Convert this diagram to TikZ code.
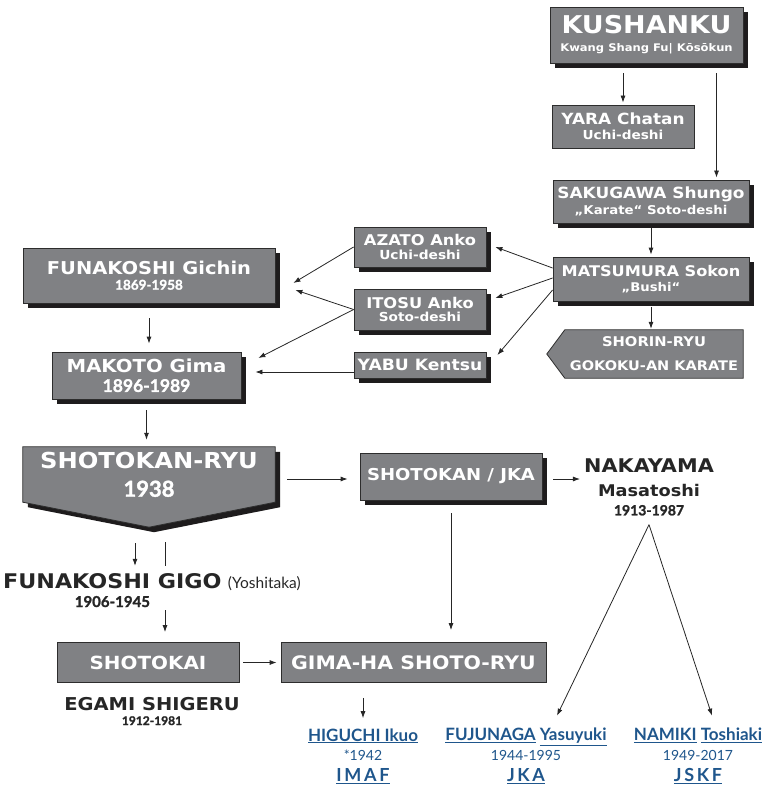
\documentclass[tikz,border=0pt]{standalone}
\usepackage{fontspec}
\setmainfont{Lato}
\newfontfamily\boxfont{DejaVu Sans}[FakeStretch=1.1]
\usetikzlibrary{arrows.meta,shadows,backgrounds,positioning}
\definecolor{boxgray}{RGB}{128,129,132}
\definecolor{boxline}{RGB}{45,45,45}
\definecolor{shade}{RGB}{30,28,29}
\definecolor{linkblue}{RGB}{31,86,140}
\newcommand\fsz[1]{\fontsize{#1}{\baselineskip}\selectfont}
\newcommand\datefont{\normalfont\bfseries\addfontfeature{FakeBold=1.5}}

\begin{document}
\begin{tikzpicture}[x=1pt, y=-1pt, >={Latex[length=7pt,width=5pt]},
    lineage/.style ={draw=boxline, fill=boxgray, line width=0.8pt, text=white, align=center, inner sep=0pt, font=\boxfont\bfseries\fontsize{10}{#1}\selectfont},
    lineage/.default=12,
    shaded/.style ={drop shadow={shadow xshift=5pt, shadow yshift=-5pt, fill=shade, opacity=1}},
    caption/.style ={align=center, inner sep=0pt, text=white, font=\boxfont\bfseries\fontsize{10}{#1}\selectfont},
    person/.style ={font=\boxfont\bfseries\fontsize{10}{#1}\selectfont, align=center, inner sep=0pt, text=black!85},
    person/.default=12,
    pupil/.style ={font=\bfseries\fontsize{10}{19.3}\selectfont, align=center, inner sep=0pt, text=linkblue},
    link/.style ={->, line width=0.8pt, black!85}]
   \useasboundingbox (0,0) rectangle (773,786);

   % right column
   \node[lineage=18, shaded, minimum width=193, minimum height=56] (kushanku) at (646.5,35) {\fsz{24.5}KUSHANKU\\ \fsz{10.5}Kwang Shang Fu| Kōsōkun};
   \node[lineage=15, minimum width=142, minimum height=43] (yara) at (623,126.5) {\fsz{15.4}YARA Chatan\\ \fsz{12.4}Uchi-deshi};
   \node[lineage=16.7, shaded, minimum width=196, minimum height=43] (sakugawa) at (651,201.5) {\fsz{15.4}SAKUGAWA Shungo\\ \fsz{12.1}„Karate“ Soto-deshi};
   \node[lineage=15, shaded, minimum width=196, minimum height=44] (matsumura) at (651,279) {\fsz{14.7}MATSUMURA Sokon\\ \fsz{12}„Bushi“};
   \node[caption=24, minimum width=178, minimum height=48] (shorin) at (654,354) {\fsz{13.4}SHORIN-RYU\\ \fsz{13.2}GOKOKU-AN KARATE};

   % middle column
   \node[lineage=13.6, shaded, minimum width=132, minimum height=40] (azato) at (420,247) {\fsz{14.8}AZATO Anko\\ \fsz{12.5}Uchi-deshi};
   \node[lineage=13, shaded, minimum width=132, minimum height=41] (itosu) at (420,309.5) {\fsz{14.8}ITOSU Anko\\ \fsz{12.4}Soto-deshi};
   \node[lineage, shaded, minimum width=132, minimum height=26] (yabu) at (420,365) {\fsz{15.6}YABU Kentsu};

   % left column
   \node[lineage=15, shaded, minimum width=252, minimum height=55] (funakoshi) at (149,275.5) {\fsz{17.7}FUNAKOSHI Gichin\\ \fsz{13.5}\datefont 1869-1958};
   \node[lineage=19.4, shaded, minimum width=189, minimum height=47] (makoto) at (146.5,375.5) {\fsz{17.9}MAKOTO Gima\\ \fsz{17.5}\datefont 1896-1989};
   \node[caption=28.3, minimum width=252, minimum height=55] (shotokanryu) at (149,474.5) {\fsz{22}SHOTOKAN-RYU\\ \fsz{22}\datefont 1938};
   \node[lineage, shaded, minimum width=182, minimum height=47] (shotokanjka) at (451,476.5) {\fsz{16.4}SHOTOKAN / JKA};
   \node[person=19] (nakayama) at (649,487) {\fsz{18.9}NAKAYAMA\\[5pt] \fsz{16.1}Masatoshi\\ \fsz{14}\datefont 1913-1987};

   % pentagon outlines behind their captions
   \begin{scope}[on background layer]
     \draw[fill=boxgray, draw=boxline, line width=0.8pt] (shorin.north west) -- (shorin.north east) -- (shorin.south east) -- (shorin.south west) -- ([xshift=-18pt]shorin.west) -- cycle;
     \draw[fill=boxgray, draw=boxline, line width=0.8pt, shaded] (shotokanryu.north west) -- (shotokanryu.north east) -- (shotokanryu.south east) -- ([yshift=-25pt]shotokanryu.south) -- (shotokanryu.south west) -- cycle;
   \end{scope}

   \node[person, anchor=base west] (gigo) at (3,588) {\fsz{20.2}FUNAKOSHI GIGO};
   \node[person, anchor=base west, font=\normalfont] (yoshitaka) at ([xshift=6pt]gigo.base east) {\fsz{15.5}(Yoshitaka)};
   \node[person, anchor=base] (gigoyears) at ([yshift=-19pt]gigo.base) {\fsz{15}\datefont 1906-1945};

   \node[lineage, minimum width=182, minimum height=40] (shotokai) at (148,662.5) {\fsz{18.1}SHOTOKAI};
   \node[lineage, minimum width=265, minimum height=40] (gima) at (413.5,662.5) {\fsz{18.6}GIMA-HA SHOTO-RYU};
   \node[person=15] (egami) at (152,711) {\fsz{17.7}EGAMI SHIGERU\\ \fsz{12}\datefont 1912-1981};

   % pupils of Gima and Nakayama
   \node[pupil] (higuchi) at (363,756) {\fsz{17}\underline{HIGUCHI Ikuo}\\ \fsz{14}\mdseries *1942\\[2pt] \fsz{18}\addfontfeature{LetterSpace=15}\underline{IMAF}};
   \node[pupil] (fujunaga) at (526,756) {\fsz{17}\underline{FUJUNAGA} \underline{Yasuyuki}\\ \fsz{14}\mdseries 1944-1995\\[2pt] \fsz{18}\addfontfeature{LetterSpace=15}\underline{JKA}};
   \node[pupil] (namiki) at (698,756) {\fsz{17}\underline{NAMIKI} \underline{Toshiaki}\\ \fsz{14}\mdseries 1949-2017\\[2pt] \fsz{18}\addfontfeature{LetterSpace=15}\underline{JSKF}};

   % connections, right column
   \draw[link, shorten <=10pt, shorten >=2pt] (yara.north |- kushanku.south) -- (yara.north);
   \draw[link, shorten <=10pt, shorten >=2pt] ([xshift=70pt]kushanku.south) -- ([xshift=70pt]kushanku.south |- sakugawa.north);
   \draw[link, shorten <=5pt, shorten >=2pt] (sakugawa) -- (matsumura);
   \draw[link, shorten <=6pt, shorten >=1pt] (matsumura.south) -- (matsumura.south |- shorin.north);
   \draw[link] ([yshift=11pt]matsumura.west) -- ([xshift=9pt]azato.east);
   \draw[link] ([yshift=1pt]matsumura.west) -- ([xshift=9pt,yshift=11.5pt]itosu.east);
   \draw[link] ([yshift=-11pt]matsumura.west) -- ([xshift=11pt,yshift=10pt]yabu.east);

   % connections, left column
   \draw[link] (azato.west) -- ([xshift=18pt,yshift=-7.5pt]funakoshi.east);
   \draw[link] (itosu.west) -- ([xshift=20pt,yshift=-14.5pt]funakoshi.east);
   \draw[link] (itosu.west) -- ([xshift=17pt,yshift=17.5pt]makoto.east);
   \coordinate (yabuout) at ([yshift=-7pt]yabu.west);
   \draw[link, shorten >=14pt] (yabuout) -- (yabuout -| makoto.east);
   \draw[link, shorten <=15pt, shorten >=8pt] (funakoshi.south) -- (funakoshi.south |- makoto.north);
   \draw[link, shorten <=11pt, shorten >=7pt] (makoto.south) -- (makoto.south |- shotokanryu.north);

   % connections, lower part
   \coordinate (jkain) at ([yshift=-2.5pt]shotokanjka.west);
   \coordinate (jkaout) at ([yshift=-2.5pt]shotokanjka.east);
   \draw[link, shorten <=12pt, shorten >=12pt] (jkain -| shotokanryu.east) -- (jkain);
   \draw[link, shorten <=11pt, shorten >=4pt] (jkaout) -- (jkaout -| nakayama.west);
   \draw[link, shorten <=13pt, shorten >=12pt] (shotokanjka.south) -- (shotokanjka.south |- gima.north);
   \draw[link, shorten <=41pt, shorten >=7pt] ([xshift=-14pt]shotokanryu.south) -- ([xshift=-14pt]shotokanryu.south |- gigo.north);
   \draw[line width=0.8pt, black!85, shorten <=40pt, shorten >=7pt] ([xshift=16pt]shotokanryu.south) -- ([xshift=16pt]shotokanryu.south |- gigo.north);
   \draw[link, shorten <=3pt, shorten >=10pt] ([xshift=16pt]shotokanryu.south |- gigoyears.south) -- ([xshift=16pt]shotokanryu.south |- shotokai.north);
   \draw[link, shorten <=4pt, shorten >=4pt] (shotokai) -- (gima);
   \draw[link, shorten <=15pt, shorten >=10pt] (higuchi.north |- gima.south) -- (higuchi.north);
   \coordinate (apex) at ([yshift=-9pt]nakayama.south);
   \draw[link] (apex) -- ([xshift=31pt,yshift=12.5pt]fujunaga.north);
   \draw[link] (apex) -- ([xshift=14pt,yshift=12.5pt]namiki.north);
 \end{tikzpicture}
\end{document}
